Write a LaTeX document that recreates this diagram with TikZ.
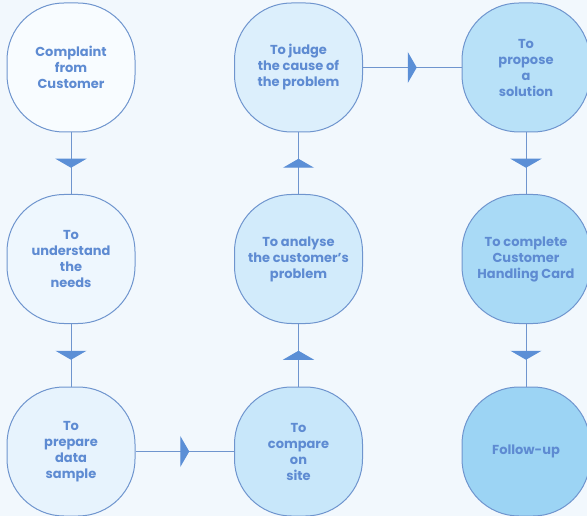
\documentclass[tikz,border=0pt]{standalone}
\usepackage{fontspec}
\setmainfont{Poppins}
\usetikzlibrary{arrows.meta,decorations.markings}
\definecolor{bg}{HTML}{F2F8FD}
\definecolor{bordc}{HTML}{6F95CE}
\definecolor{txtc}{HTML}{5E8BD2}
\definecolor{arrc}{HTML}{5B8FD6}
\definecolor{fa}{HTML}{F8FCFF}
\definecolor{fb}{HTML}{EEF7FE}
\definecolor{fc}{HTML}{E7F3FD}
\definecolor{fd}{HTML}{DCEFFC}
\definecolor{fe}{HTML}{D2EBFB}
\definecolor{ff}{HTML}{C8E7FA}
\definecolor{fg}{HTML}{B8E1F8}
\definecolor{fh}{HTML}{A9DAF6}
\definecolor{fi}{HTML}{9CD4F4}
\tikzset{
  stepbox/.style={draw=bordc, line width=1pt, rounded corners=57pt,
    minimum width=128pt, minimum height=129pt, inner sep=2pt, align=center,
    text=txtc, font=\fontsize{13}{16}\selectfont\bfseries},
  flow/.style={draw=bordc, line width=1pt, postaction={decorate},
    decoration={markings, mark=at position 0.5 with
      {\arrow[color=arrc, xshift=4.5pt]{Triangle[width=31pt,length=9pt]}}}}
}
\begin{document}
\begin{tikzpicture}[x=1pt,y=-1pt]
\fill[bg] (0,0) rectangle (587,516);
\useasboundingbox (0,0) rectangle (587,516);
\node[stepbox, fill=fa] (n1) at (71,67.5) {Complaint\\from\\Customer};
\node[stepbox, fill=fb] (n2) at (71,259) {To\\understand\\the\\needs};
\node[stepbox, fill=fc] (n3) at (71,451.5) {To\\prepare\\data\\sample};
\node[stepbox, fill=ff] (n6) at (298.5,451.5) {To\\compare\\on\\site};
\node[stepbox, fill=fe] (n5) at (298.5,259) {To analyse\\the customer’s\\problem};
\node[stepbox, fill=fd] (n4) at (298.5,67.5) {To judge\\the cause of\\the problem};
\node[stepbox, fill=fg] (n7) at (526,67.5) {To\\propose\\a\\solution};
\node[stepbox, fill=fh] (n8) at (526,259) {To complete\\Customer\\Handling Card};
\node[stepbox, fill=fi] (n9) at (526,451.5) {Follow-up};
\draw[flow] (n1) -- (n2);
\draw[flow] (n2) -- (n3);
\draw[flow] (n3) -- (n6);
\draw[flow] (n6) -- (n5);
\draw[flow] (n5) -- (n4);
\draw[flow] (n4) -- (n7);
\draw[flow] (n7) -- (n8);
\draw[flow] (n8) -- (n9);
\end{tikzpicture}
\end{document}
